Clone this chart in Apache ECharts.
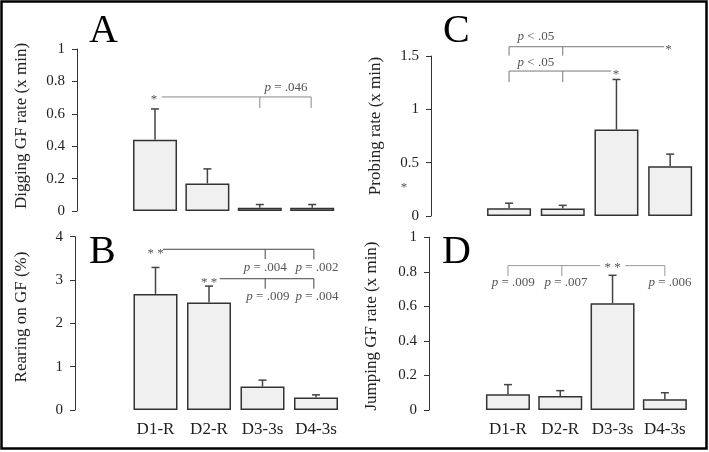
<!DOCTYPE html>
<html><head><meta charset="utf-8">
<script src="https://cdn.jsdelivr.net/npm/echarts@6/dist/echarts.min.js"></script>
<style>html,body{margin:0;padding:0;background:#fff}#c{width:709px;height:452px}</style>
</head><body><div id="c"></div>
<script>
// ---- data ----
var categories = ['D1-R', 'D2-R', 'D3-3s', 'D4-3s'];
var diggingMean = [0.44, 0.17, 0.02, 0.02];
var diggingErr  = [0.63, 0.26, 0.04, 0.04];
var probingMean = [0.072, 0.07, 0.81, 0.466];
var probingErr  = [0.12, 0.10, 1.28, 0.58];
var rearingMean = [2.68, 2.48, 0.54, 0.29];
var rearingErr  = [3.29, 2.86, 0.69, 0.35];
var jumpingMean = [0.091, 0.081, 0.618, 0.062];
var jumpingErr  = [0.147, 0.112, 0.78, 0.10];

// significance annotations (category index, value units)
var annLinesA = [[0.13,0.704,2.98,0.704],[2,0.704,2,0.636],[2.98,0.704,2.98,0.636]];
var annTextsA = [[-0.02,0.685,'*'],[2.5,0.76,'{i|p} = .046']];
var annLinesC = [[0,1.587,2.89,1.587],[0,1.587,0,1.503],[1,1.587,1,1.503],
                 [0,1.359,1.9,1.359],[0,1.359,0,1.256],[1,1.359,1,1.256]];
var annTextsC = [[2.97,1.556,'*'],[0.5,1.678,'{i|p} < .05'],[1.99,1.322,'*'],[0.5,1.434,'{i|p} < .05'],[-1.955,0.2625,'*']];
var annLinesB = [[0.14,3.71,2.96,3.71],[2.05,3.71,2.05,3.48],[2.96,3.71,2.96,3.48],
                 [1.2,3.03,2.96,3.03],[2.05,3.03,2.05,2.80],[2.96,3.03,2.96,2.80]];
var annTextsB = [[0,3.62,'* *'],[2.05,3.28,'{i|p} = .004'],[3.02,3.28,'{i|p} = .002'],
                 [1,2.93,'* *'],[2.1,2.61,'{i|p} = .009'],[3.02,2.61,'{i|p} = .004']];
var annLinesD = [[0,0.836,1.76,0.836],[2.24,0.836,3,0.836],[0,0.836,0,0.776],[1.03,0.836,1.03,0.776],[3,0.836,3,0.776]];
var annTextsD = [[2,0.822,'* *'],[0.1,0.735,'{i|p} = .009'],[1.11,0.735,'{i|p} = .007'],[3.1,0.735,'{i|p} = .006']];

var SERIF = "'Liberation Serif', 'Times New Roman', serif";

var panels = [
  {grid:{left:128.8, top:49, width:209.6, height:162}, offset:51.8, max:1, interval:0.2,
   mean:diggingMean, err:diggingErr, lines:annLinesA, texts:annTextsA, lineColor:'#8a8a8a', showX:false},
  {grid:{left:482.2, top:56, width:214.8, height:160}, offset:51.2, max:1.5, interval:0.5,
   mean:probingMean, err:probingErr, lines:annLinesC, texts:annTextsC, lineColor:'#777', showX:false},
  {grid:{left:128.75, top:236.7, width:214, height:173.3}, offset:53.75, max:4, interval:1,
   mean:rearingMean, err:rearingErr, lines:annLinesB, texts:annTextsB, lineColor:'#444', showX:true},
  {grid:{left:481.8, top:237.3, width:209.2, height:172.7}, offset:52.8, max:1, interval:0.2,
   mean:jumpingMean, err:jumpingErr, lines:annLinesD, texts:annTextsD, lineColor:'#999', showX:true}
];

var grids = [], xAxes = [], yAxes = [], series = [];

function errRender(params, api) {
  var x = api.value(0), v = api.value(1), e = api.value(2);
  var p0 = api.coord([x, v]), p1 = api.coord([x, e]);
  var st = {stroke:'#444', lineWidth:1.5};
  return {type:'group', children:[
    {type:'line', shape:{x1:p0[0], y1:p0[1], x2:p1[0], y2:p1[1]}, style:st},
    {type:'line', shape:{x1:p1[0]-4, y1:p1[1], x2:p1[0]+4, y2:p1[1]}, style:st}
  ]};
}

function makeAnnRender(lines, texts, color) {
  return function (params, api) {
    function pt(ci, v) {
      var a = api.coord([0, v]), b = api.coord([1, v]);
      return [a[0] + ci * (b[0] - a[0]), a[1]];
    }
    var ch = [];
    lines.forEach(function (l) {
      var p = pt(l[0], l[1]), q = pt(l[2], l[3]);
      ch.push({type:'line', shape:{x1:p[0], y1:p[1], x2:q[0], y2:q[1]},
               style:{stroke:color, lineWidth:1}});
    });
    texts.forEach(function (t) {
      var p = pt(t[0], t[1]);
      ch.push({type:'text', x:p[0], y:p[1], style:{text:t[2], fill:'#555',
        font:'13px ' + SERIF, align:'center', verticalAlign:'middle',
        rich:{i:{fontStyle:'italic', fontSize:13, fontFamily:SERIF, fill:'#555'}}}});
    });
    return {type:'group', children:ch};
  };
}

panels.forEach(function (p, i) {
  grids.push(p.grid);
  xAxes.push({type:'category', gridIndex:i, data:categories,
    axisLine:{show:false}, axisTick:{show:false},
    axisLabel:{show:p.showX, interval:0, color:'#222', fontFamily:SERIF, fontSize:17, margin:11}});
  yAxes.push({type:'value', gridIndex:i, min:0, max:p.max, interval:p.interval, offset:p.offset,
    axisLine:{show:true, lineStyle:{color:'#333', width:1}},
    axisTick:{show:true, length:5, lineStyle:{color:'#333'}},
    splitLine:{show:false},
    axisLabel:{color:'#222', fontFamily:SERIF, fontSize:15, margin:12}});
  series.push({type:'bar', xAxisIndex:i, yAxisIndex:i, data:p.mean, barWidth:44,
    itemStyle:{color:'#f0f0f0', borderColor:'#333', borderWidth:1.5}, silent:true});
  series.push({type:'custom', xAxisIndex:i, yAxisIndex:i, renderItem:errRender, z:3,
    data:p.mean.map(function (m, k) { return [k, m, p.err[k]]; })});
  series.push({type:'custom', xAxisIndex:i, yAxisIndex:i, z:4, clip:false,
    renderItem:makeAnnRender(p.lines, p.texts, p.lineColor), data:[[0, 0]]});
});

var yTitles = [
  {text:'Digging GF rate (x min)', x:22, y:126},
  {text:'Probing rate (x min)', x:376, y:126},
  {text:'Rearing on GF (%)', x:22, y:317},
  {text:'Jumping GF rate (x min)', x:372, y:326}
];
var letters = [
  {text:'A', x:89, y:31.5},
  {text:'C', x:443, y:31.5},
  {text:'B', x:89, y:252.5},
  {text:'D', x:442, y:252.5}
];

var graphic = [{type:'rect', shape:{x:1.5, y:1.5, width:705, height:447},
  style:{fill:'none', stroke:'#000', lineWidth:2.5}, z:10}];
yTitles.forEach(function (t) {
  graphic.push({type:'text', x:t.x, y:t.y, rotation:Math.PI/2,
    style:{text:t.text, fill:'#222', font:'17px ' + SERIF, align:'center', verticalAlign:'middle'}});
});
letters.forEach(function (t) {
  graphic.push({type:'text', x:t.x, y:t.y,
    style:{text:t.text, fill:'#000', font:'40px ' + SERIF, align:'left', verticalAlign:'middle'}});
});

var chart = echarts.init(document.getElementById('c'), null, {renderer:'canvas'});
chart.setOption({
  animation:false, backgroundColor:'#fff',
  grid:grids, xAxis:xAxes, yAxis:yAxes, series:series, graphic:graphic
});
</script></body></html>
